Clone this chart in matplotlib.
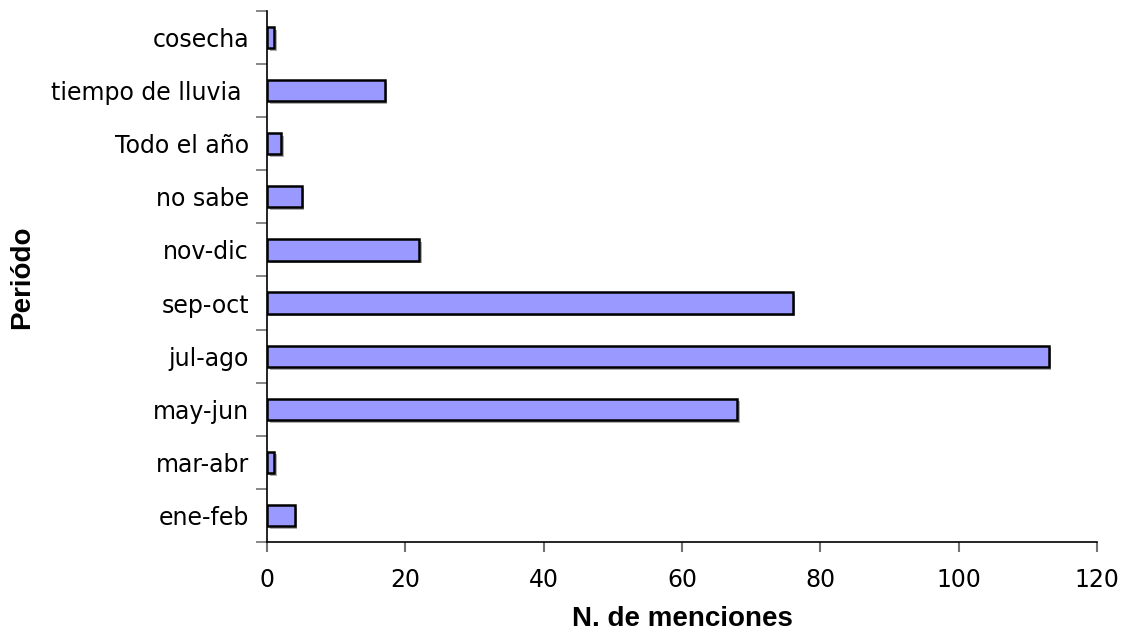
import matplotlib.pyplot as plt
import matplotlib.patheffects as pe
import numpy as np

periodos = ["ene-feb", "mar-abr", "may-jun", "jul-ago", "sep-oct",
            "nov-dic", "no sabe", "Todo el año", "tiempo de lluvia ", "cosecha"]
menciones = [4, 1, 68, 113, 76, 22, 5, 2, 17, 1]
xticks = [0, 20, 40, 60, 80, 100, 120]

plt.rcParams['font.family'] = ['DejaVu Sans']

fig = plt.figure(figsize=(11.26, 6.33), dpi=100)
ax = fig.add_axes([0.2371, 0.1438, 0.7371, 0.8388])

y = np.arange(len(periodos))
bars = ax.barh(y, menciones, height=0.4, color='#9999ff',
               edgecolor='black', linewidth=1.8, zorder=3)
for b in bars:
    b.set_path_effects([pe.SimplePatchShadow(offset=(2, -2), shadow_rgbFace='0.55', alpha=0.7),
                        pe.Normal()])

ax.set_xlim(0, 120)
ax.set_ylim(-0.5, len(periodos) - 0.5)

ax.set_yticks(y)
ax.set_yticklabels(periodos, fontsize=17)
ax.set_yticks(np.arange(-0.5, len(periodos)), minor=True)
ax.tick_params(axis='y', which='major', length=0, pad=13)
ax.tick_params(axis='y', which='minor', length=8, width=1.2, color='0.45')

ax.set_xticks(xticks)
ax.set_xticklabels([str(v) for v in xticks], fontsize=17)
ax.tick_params(axis='x', length=7, width=1.5, color='0.45', pad=12)

for side in ['top', 'right']:
    ax.spines[side].set_visible(False)
for side in ['left', 'bottom']:
    ax.spines[side].set_linewidth(1.2)

fig.text(682 / 1126, 1 - 619 / 633, 'N. de menciones', fontsize=20,
         fontweight='bold', family='Liberation Sans', ha='center', va='center')
fig.text(22 / 1126, 1 - 277 / 633, 'Periódo', fontsize=20, rotation=90,
         fontweight='bold', family='Liberation Sans', ha='center', va='center')

fig.savefig('out.png', dpi=100)
